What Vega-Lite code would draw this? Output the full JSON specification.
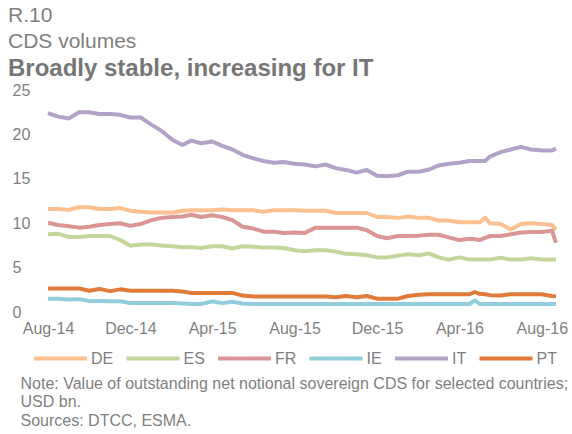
{
  "$schema": "https://vega.github.io/schema/vega-lite/v6.json",
  "width": 508,
  "height": 222,
  "autosize": {"type": "none"},
  "padding": {"left": 48, "top": 90, "right": 16, "bottom": 122},
  "background": "white",
  "config": {"view": {"stroke": null}},
  "title": {
    "text": ["R.10", "CDS volumes"],
    "subtitle": "Broadly stable, increasing for IT",
    "anchor": "start",
    "frame": "group",
    "dx": -40,
    "font": "Liberation Sans",
    "fontSize": 21,
    "fontWeight": "normal",
    "color": "#7f7f7f",
    "lineHeight": 26,
    "subtitleFont": "Liberation Sans",
    "subtitleFontSize": 24,
    "subtitleFontWeight": "bold",
    "subtitleColor": "#767676",
    "subtitlePadding": 5,
    "offset": 1
  },
  "data": {
    "values": [
      {"date": "2014-08-01", "DE": 11.6, "ES": 8.75, "FR": 10.05, "IE": 1.5, "IT": 22.4, "PT": 2.65},
      {"date": "2014-08-16", "DE": 11.6, "ES": 8.8, "FR": 9.8, "IE": 1.5, "IT": 22.0, "PT": 2.65},
      {"date": "2014-09-01", "DE": 11.5, "ES": 8.45, "FR": 9.65, "IE": 1.4, "IT": 21.8, "PT": 2.65},
      {"date": "2014-09-16", "DE": 11.8, "ES": 8.45, "FR": 9.5, "IE": 1.45, "IT": 22.5, "PT": 2.65},
      {"date": "2014-10-01", "DE": 11.8, "ES": 8.55, "FR": 9.6, "IE": 1.25, "IT": 22.5, "PT": 2.4},
      {"date": "2014-10-16", "DE": 11.6, "ES": 8.55, "FR": 9.8, "IE": 1.25, "IT": 22.3, "PT": 2.6},
      {"date": "2014-11-01", "DE": 11.6, "ES": 8.55, "FR": 9.9, "IE": 1.2, "IT": 22.3, "PT": 2.35},
      {"date": "2014-11-16", "DE": 11.7, "ES": 8.1, "FR": 10.0, "IE": 1.2, "IT": 22.2, "PT": 2.55},
      {"date": "2014-12-01", "DE": 11.4, "ES": 7.45, "FR": 9.7, "IE": 1.0, "IT": 21.9, "PT": 2.4},
      {"date": "2014-12-16", "DE": 11.3, "ES": 7.6, "FR": 9.9, "IE": 1.0, "IT": 21.9, "PT": 2.4},
      {"date": "2015-01-01", "DE": 11.2, "ES": 7.6, "FR": 10.35, "IE": 1.0, "IT": 21.1, "PT": 2.4},
      {"date": "2015-01-16", "DE": 11.2, "ES": 7.5, "FR": 10.6, "IE": 1.0, "IT": 20.4, "PT": 2.4},
      {"date": "2015-02-01", "DE": 11.2, "ES": 7.4, "FR": 10.7, "IE": 1.0, "IT": 19.4, "PT": 2.4},
      {"date": "2015-02-16", "DE": 11.4, "ES": 7.3, "FR": 10.75, "IE": 0.95, "IT": 18.8, "PT": 2.3},
      {"date": "2015-03-01", "DE": 11.45, "ES": 7.3, "FR": 10.95, "IE": 0.9, "IT": 19.3, "PT": 2.15},
      {"date": "2015-03-16", "DE": 11.45, "ES": 7.2, "FR": 10.7, "IE": 0.9, "IT": 19.0, "PT": 2.15},
      {"date": "2015-04-01", "DE": 11.45, "ES": 7.4, "FR": 10.9, "IE": 1.2, "IT": 19.2, "PT": 2.15},
      {"date": "2015-04-16", "DE": 11.55, "ES": 7.4, "FR": 10.7, "IE": 1.0, "IT": 18.7, "PT": 2.15},
      {"date": "2015-05-01", "DE": 11.45, "ES": 7.15, "FR": 10.35, "IE": 1.15, "IT": 18.3, "PT": 2.15},
      {"date": "2015-05-16", "DE": 11.45, "ES": 7.4, "FR": 9.6, "IE": 0.95, "IT": 17.7, "PT": 1.85},
      {"date": "2015-06-01", "DE": 11.45, "ES": 7.35, "FR": 9.4, "IE": 0.9, "IT": 17.3, "PT": 1.75},
      {"date": "2015-06-16", "DE": 11.3, "ES": 7.25, "FR": 9.05, "IE": 0.9, "IT": 17.0, "PT": 1.75},
      {"date": "2015-07-01", "DE": 11.45, "ES": 7.25, "FR": 9.05, "IE": 0.9, "IT": 16.8, "PT": 1.75},
      {"date": "2015-07-16", "DE": 11.45, "ES": 7.2, "FR": 8.9, "IE": 0.9, "IT": 16.9, "PT": 1.75},
      {"date": "2015-08-01", "DE": 11.45, "ES": 6.95, "FR": 8.95, "IE": 0.9, "IT": 16.7, "PT": 1.75},
      {"date": "2015-08-16", "DE": 11.4, "ES": 6.85, "FR": 8.9, "IE": 0.9, "IT": 16.6, "PT": 1.75},
      {"date": "2015-09-01", "DE": 11.4, "ES": 6.95, "FR": 9.5, "IE": 0.9, "IT": 16.4, "PT": 1.75},
      {"date": "2015-09-16", "DE": 11.4, "ES": 6.95, "FR": 9.5, "IE": 0.9, "IT": 16.6, "PT": 1.75},
      {"date": "2015-10-01", "DE": 11.15, "ES": 6.8, "FR": 9.5, "IE": 0.9, "IT": 16.2, "PT": 1.65},
      {"date": "2015-10-16", "DE": 11.15, "ES": 6.55, "FR": 9.5, "IE": 0.9, "IT": 16.0, "PT": 1.8},
      {"date": "2015-11-01", "DE": 11.15, "ES": 6.5, "FR": 9.5, "IE": 0.9, "IT": 15.7, "PT": 1.65},
      {"date": "2015-11-16", "DE": 11.15, "ES": 6.4, "FR": 9.2, "IE": 0.9, "IT": 16.0, "PT": 1.8},
      {"date": "2015-12-01", "DE": 10.7, "ES": 6.15, "FR": 8.55, "IE": 0.9, "IT": 15.35, "PT": 1.5},
      {"date": "2015-12-16", "DE": 10.7, "ES": 6.15, "FR": 8.3, "IE": 0.9, "IT": 15.3, "PT": 1.5},
      {"date": "2016-01-01", "DE": 10.6, "ES": 6.35, "FR": 8.55, "IE": 0.9, "IT": 15.4, "PT": 1.5},
      {"date": "2016-01-16", "DE": 10.75, "ES": 6.5, "FR": 8.55, "IE": 0.9, "IT": 15.8, "PT": 1.8},
      {"date": "2016-02-01", "DE": 10.6, "ES": 6.4, "FR": 8.6, "IE": 0.9, "IT": 15.8, "PT": 1.95},
      {"date": "2016-02-16", "DE": 10.6, "ES": 6.6, "FR": 8.7, "IE": 0.9, "IT": 16.05, "PT": 2.0},
      {"date": "2016-03-01", "DE": 10.3, "ES": 6.15, "FR": 8.7, "IE": 0.9, "IT": 16.5, "PT": 2.0},
      {"date": "2016-03-16", "DE": 10.3, "ES": 5.9, "FR": 8.4, "IE": 0.9, "IT": 16.7, "PT": 2.0},
      {"date": "2016-04-01", "DE": 10.1, "ES": 6.15, "FR": 8.1, "IE": 0.9, "IT": 16.8, "PT": 2.0},
      {"date": "2016-04-16", "DE": 10.1, "ES": 5.9, "FR": 8.25, "IE": 0.9, "IT": 17.0, "PT": 2.0},
      {"date": "2016-04-24", "DE": 10.1, "ES": 5.9, "FR": 8.2, "IE": 1.3, "IT": 17.0, "PT": 2.25},
      {"date": "2016-05-01", "DE": 10.1, "ES": 5.9, "FR": 8.1, "IE": 0.9, "IT": 17.0, "PT": 2.05},
      {"date": "2016-05-09", "DE": 10.6, "ES": 5.9, "FR": 8.35, "IE": 0.9, "IT": 17.0, "PT": 2.0},
      {"date": "2016-05-16", "DE": 10.0, "ES": 5.9, "FR": 8.55, "IE": 0.9, "IT": 17.5, "PT": 1.9},
      {"date": "2016-06-01", "DE": 9.9, "ES": 6.1, "FR": 8.55, "IE": 0.9, "IT": 18.0, "PT": 1.85},
      {"date": "2016-06-16", "DE": 9.3, "ES": 5.9, "FR": 8.75, "IE": 0.9, "IT": 18.3, "PT": 2.0},
      {"date": "2016-07-01", "DE": 9.9, "ES": 5.9, "FR": 8.95, "IE": 0.9, "IT": 18.6, "PT": 2.0},
      {"date": "2016-07-16", "DE": 10.0, "ES": 6.05, "FR": 9.0, "IE": 0.9, "IT": 18.3, "PT": 2.0},
      {"date": "2016-08-01", "DE": 9.9, "ES": 5.9, "FR": 9.0, "IE": 0.9, "IT": 18.2, "PT": 2.0},
      {"date": "2016-08-16", "DE": 9.8, "ES": 5.9, "FR": 9.15, "IE": 0.9, "IT": 18.2, "PT": 1.8},
      {"date": "2016-08-22", "DE": 9.25, "ES": 5.9, "FR": 7.8, "IE": 0.9, "IT": 18.4, "PT": 1.75}
    ]
  },
  "transform": [{"fold": ["DE", "ES", "FR", "IE", "IT", "PT"], "as": ["country", "value"]}],
  "mark": {"type": "line", "strokeWidth": 4, "interpolate": "linear", "strokeJoin": "round"},
  "encoding": {
    "x": {
      "field": "date",
      "type": "temporal",
      "scale": {
        "type": "utc",
        "domain": [
          {"year": 2014, "month": 8, "date": 1, "utc": true},
          {"year": 2016, "month": 8, "date": 22, "utc": true}
        ]
      },
      "axis": {
        "values": [
          {"year": 2014, "month": 8, "date": 1, "utc": true},
          {"year": 2014, "month": 12, "date": 1, "utc": true},
          {"year": 2015, "month": 4, "date": 1, "utc": true},
          {"year": 2015, "month": 8, "date": 1, "utc": true},
          {"year": 2015, "month": 12, "date": 1, "utc": true},
          {"year": 2016, "month": 4, "date": 1, "utc": true},
          {"year": 2016, "month": 8, "date": 1, "utc": true}
        ],
        "format": "%b-%y",
        "domain": false,
        "ticks": false,
        "tickSize": 0,
        "grid": false,
        "labelFlush": false,
        "labelOverlap": false,
        "labelBound": false,
        "labelFont": "Liberation Sans",
        "labelFontSize": 16,
        "labelColor": "#7f7f7f",
        "labelPadding": 8,
        "title": [
          "Note: Value of outstanding net notional sovereign CDS for selected countries;",
          "USD bn.",
          "Sources:  DTCC, ESMA."
        ],
        "titleFont": "Liberation Sans",
        "titleFontSize": 16,
        "titleFontWeight": "normal",
        "titleColor": "#7f7f7f",
        "titleAnchor": "start",
        "titleAlign": "left",
        "titleBaseline": "top",
        "titleX": -28,
        "titleY": 63,
        "titleLineHeight": 18.5
      }
    },
    "y": {
      "field": "value",
      "type": "quantitative",
      "scale": {"domain": [0, 25], "nice": false, "zero": true},
      "axis": {
        "values": [0, 5, 10, 15, 20, 25],
        "domain": false,
        "ticks": false,
        "tickSize": 0,
        "grid": false,
        "labelAlign": "left",
        "labelPadding": 36,
        "labelFont": "Liberation Sans",
        "labelFontSize": 16,
        "labelColor": "#7f7f7f",
        "title": null
      }
    },
    "color": {
      "field": "country",
      "type": "nominal",
      "scale": {
        "domain": ["DE", "ES", "FR", "IE", "IT", "PT"],
        "range": ["#fac090", "#c3d69b", "#d99694", "#93cddd", "#b3a2c7", "#e07b39"]
      },
      "legend": {
        "orient": "none",
        "legendX": -16,
        "legendY": 240,
        "direction": "horizontal",
        "title": null,
        "symbolType": "stroke",
        "symbolSize": 2809,
        "symbolStrokeWidth": 4,
        "labelFont": "Liberation Sans",
        "labelFontSize": 16,
        "labelColor": "#7f7f7f",
        "labelOffset": 2,
        "gridAlign": "none",
        "columnPadding": 4.5,
        "padding": 0
      }
    }
  }
}
